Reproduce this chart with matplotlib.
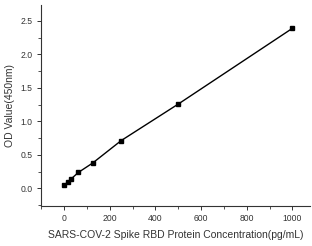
import matplotlib
matplotlib.use("Agg")
import matplotlib.pyplot as plt
from matplotlib.ticker import MultipleLocator

plt.rcParams['font.family'] = ['Liberation Sans', 'DejaVu Sans']

# standard curve data
concentration = [0, 15.6, 31.25, 62.5, 125, 250, 500, 1000]
od_value = [0.045, 0.10, 0.145, 0.24, 0.38, 0.715, 1.26, 2.39]

fig = plt.figure(figsize=(3.12, 2.46), dpi=100)
ax = fig.add_axes([0.131, 0.163, 0.863, 0.817])

ax.plot(concentration, od_value, color='black', lw=1.0)
ax.plot(concentration, od_value, 's', color='black', ms=3.5)

ax.set_xlim(-102, 1078)
ax.set_ylim(-0.26, 2.74)
ax.xaxis.set_major_locator(MultipleLocator(200))
ax.xaxis.set_minor_locator(MultipleLocator(100))
ax.yaxis.set_major_locator(MultipleLocator(0.5))
ax.yaxis.set_minor_locator(MultipleLocator(0.25))
ax.yaxis.set_major_formatter(plt.FuncFormatter(lambda v, p: f'{v:.1f}'))

for s in ['top', 'right']:
    ax.spines[s].set_visible(False)
for s in ['left', 'bottom']:
    ax.spines[s].set_linewidth(0.8)
    ax.spines[s].set_color('#333333')

ax.tick_params(which='major', length=3, width=0.7, labelsize=6.2, colors='#333333', pad=3)
ax.tick_params(which='minor', length=2, width=0.6, colors='#333333')

ax.set_xlabel('SARS-COV-2 Spike RBD Protein Concentration(pg/mL)', fontsize=7.5, color='#333333', labelpad=5)
ax.set_ylabel('OD Value(450nm)', fontsize=7.5, color='#333333', labelpad=4)

fig.savefig('out.png', dpi=100)
